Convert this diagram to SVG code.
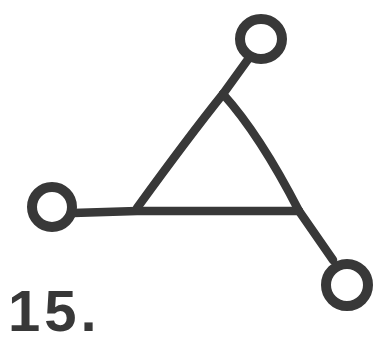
<svg xmlns="http://www.w3.org/2000/svg" width="385" height="350" viewBox="0 0 385 350">
<style>
.e{fill:none;stroke:#383838;stroke-width:8.5;stroke-linecap:round;stroke-linejoin:round}
.n{fill:#fff;stroke:#383838;stroke-width:10}
.t{font-family:"Liberation Sans",Arial,sans-serif;font-weight:bold;font-size:58px;fill:#383838;letter-spacing:4px}
</style>
<rect width="385" height="350" fill="#fff"/>
<g id="connectors">
<path class="e" d="M249 58 L223 94"/>
<path class="e" d="M223 94 Q190 135 137 208"/>
<path class="e" d="M223 94 Q260 135 299 211"/>
<path class="e" d="M73 213 L137 211 L299 211"/>
<path class="e" d="M299 211 L333 260"/>
</g>
<g id="node-top"><ellipse class="n" cx="261" cy="39" rx="21" ry="20"/></g>
<g id="node-left"><ellipse class="n" cx="52" cy="207" rx="20" ry="20"/></g>
<g id="node-right"><ellipse class="n" cx="347" cy="285" rx="21" ry="21"/></g>
<text class="t" x="8" y="331">15.</text>
</svg>
